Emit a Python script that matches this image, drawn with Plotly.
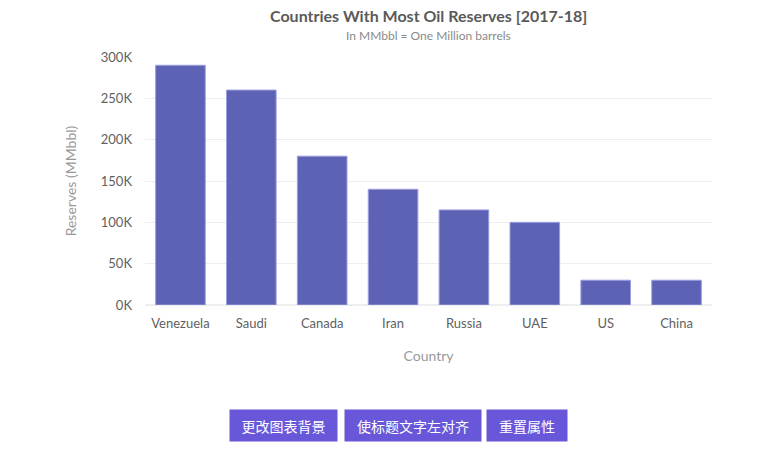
import plotly.graph_objects as go

# FusionCharts style column chart: oil reserves by country
countries = ['Venezuela', 'Saudi', 'Canada', 'Iran', 'Russia', 'UAE', 'US', 'China']
reserves = [290000, 260000, 180000, 140000, 115000, 100000, 30000, 30000]

y_ticks = [0, 50000, 100000, 150000, 200000, 250000, 300000]
y_tick_labels = ['0K', '50K', '100K', '150K', '200K', '250K', '300K']

button_labels = ['更改图表背景', '使标题文字左对齐', '重置属性']
button_x = [0.245, 0.472, 0.674]
button_w = [99, 128, 72]

FONT = 'Source Sans Pro, Lato, Open Sans, sans-serif'

fig = go.Figure()
fig.add_trace(go.Bar(x=countries,
                     y=reserves,
                     marker=dict(color='#5D62B5',
                                 line=dict(color='#9a9ee0', width=1)),
                     hovertemplate='%{x}: %{y}<extra></extra>'))

fig.update_layout(width=784,
                  height=461,
                  margin=dict(l=145, r=72, t=57, b=156, autoexpand=False),
                  paper_bgcolor='white',
                  plot_bgcolor='white',
                  bargap=0.3,
                  showlegend=False,
                  font=dict(family=FONT, color='#5F5F5F', size=13))

fig.add_annotation(text='<b>Countries With Most Oil Reserves [2017-18]</b>',
                   xref='paper', yref='paper', x=0.5, y=1.169,
                   xanchor='center', yanchor='middle', showarrow=False,
                   font=dict(size=16, color='#5a5a5a', family=FONT))
fig.add_annotation(text='In MMbbl = One Million barrels',
                   xref='paper', yref='paper', x=0.5, y=1.085,
                   xanchor='center', yanchor='middle', showarrow=False,
                   font=dict(size=12, color='#8a8a8a', family=FONT))

fig.update_yaxes(range=[0, 300000],
                 tickvals=y_ticks,
                 ticktext=y_tick_labels,
                 showgrid=True,
                 gridcolor='#EEEEEE',
                 zeroline=True,
                 zerolinecolor='#EEEEEE',
                 showline=False,
                 ticks='',
                 automargin=False,
                 ticklabelstandoff=12,
                 tickfont=dict(size=13, color='#5F5F5F'),
                 title=dict(text='Reserves (MMbbl)', standoff=20,
                            font=dict(size=14, color='#999999')))

fig.update_xaxes(showgrid=False,
                 showline=False,
                 ticks='',
                 automargin=False,
                 ticklabelstandoff=9,
                 tickfont=dict(size=13, color='#5F5F5F'),
                 title=dict(text='Country', standoff=21,
                            font=dict(size=14, color='#999999')))

# the three buttons under the chart
for label, bx, bw in zip(button_labels, button_x, button_w):
    fig.add_annotation(text=label,
                       xref='paper', yref='paper',
                       x=bx, y=-0.484,
                       xanchor='center', yanchor='middle',
                       showarrow=False,
                       width=bw, height=23,
                       bgcolor='#6957DA',
                       borderpad=4,
                       font=dict(size=14, color='white', family='Noto Sans CJK SC'))

# drop the default 8px body margin so the chart sits at the window corner
fig.write_html('out.html',
               config={'displayModeBar': False},
               post_script="document.body.style.margin='0';")
